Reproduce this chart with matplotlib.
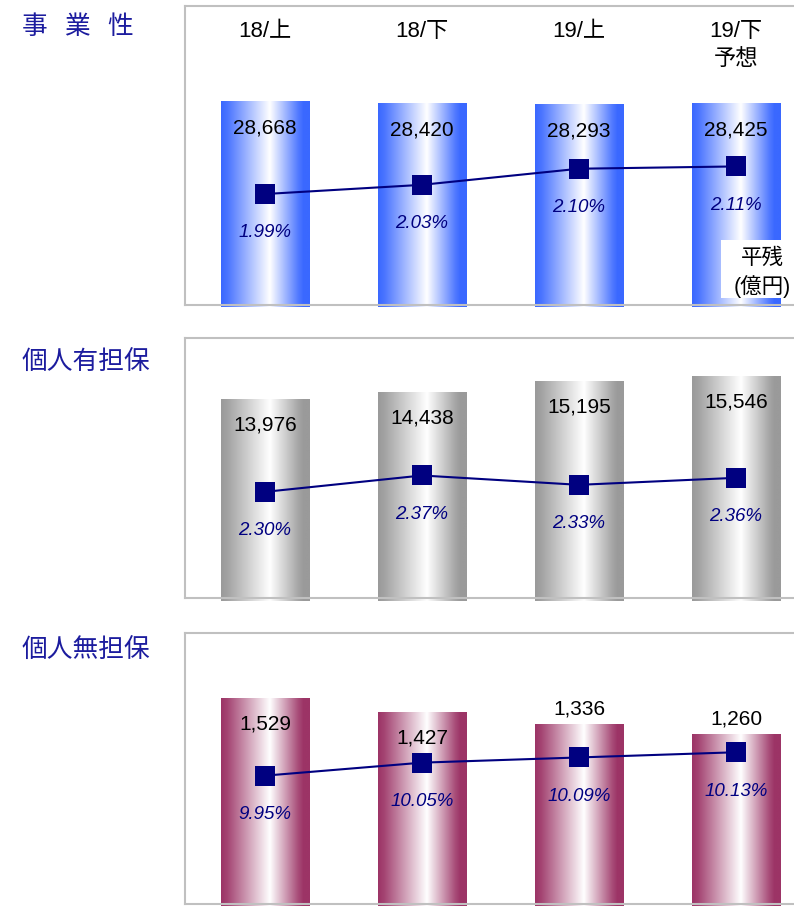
import numpy as np
import matplotlib
matplotlib.use('Agg')
import matplotlib.pyplot as plt
from matplotlib.colors import to_rgb
from matplotlib.patches import Rectangle

plt.rcParams['font.family'] = ['Liberation Sans', 'Noto Sans CJK JP', 'DejaVu Sans']

periods = ['18/上', '18/下', '19/上', '19/下\n予想']
titles = ['事   業   性', '個人有担保', '個人無担保']

biz_balance = [28668, 28420, 28293, 28425]
biz_rate = [1.99, 2.03, 2.10, 2.11]
sec_balance = [13976, 14438, 15195, 15546]
sec_rate = [2.30, 2.37, 2.33, 2.36]
unsec_balance = [1529, 1427, 1336, 1260]
unsec_rate = [9.95, 10.05, 10.09, 10.13]

W, H = 794, 906
fig = plt.figure(figsize=(W / 100, H / 100), dpi=100)

# pixel layout of each panel: top, bottom spine, bar base, units per px,
# rate anchor (value, px), px per 1%
panels = [
    dict(bal=biz_balance, rate=biz_rate, color='#3a68ff', top=6, bottom=305,
         base=307.5, upp=139.8, anchor=(2.0575, 178.5), ppr=230,
         inside=[True, True, True, True], title_y=27),
    dict(bal=sec_balance, rate=sec_rate, color='#9a9a9a', top=338, bottom=598,
         base=601, upp=69.2, anchor=(2.34, 482.5), ppr=234,
         inside=[True, True, True, True], title_y=363),
    dict(bal=unsec_balance, rate=unsec_rate, color='#9c3466', top=633, bottom=904,
         base=907, upp=7.32, anchor=(10.055, 762), ppr=130,
         inside=[True, True, False, False], title_y=651),
]

left_px, right_px = 185, 806
c0, step = 265, 157
bar_w = 89 / step

# horizontal cylinder shading
gx = np.linspace(0, 1, 200)
white = np.interp(gx, [0, 0.07, 0.55, 0.87, 0.93, 1.0], [0.0, 0.08, 1.0, 0.12, 0.0, 0.0])

x = np.arange(len(periods))
for k, p in enumerate(panels):
    ax = fig.add_axes([left_px / W, 1 - p['bottom'] / H,
                       (right_px - left_px) / W, (p['bottom'] - p['top']) / H])
    edge = np.array(to_rgb(p['color']))
    grad = edge[None, :] * (1 - white[:, None]) + white[:, None]
    grad = grad[None, :, :]

    for i, v in enumerate(p['bal']):
        im = ax.imshow(grad, extent=(i - bar_w / 2, i + bar_w / 2, 0, v),
                       aspect='auto', zorder=1, interpolation='bilinear')
        im.set_clip_on(False)
        off = -18.5 if p['inside'][i] else 11.5
        ax.annotate(f'{v:,}', xy=(i, v), xytext=(0, off), textcoords='offset points',
                    ha='center', va='center', fontsize=15, color='black', zorder=5)

    ax.set_xlim(-(c0 - left_px) / step, (right_px - c0) / step)
    ax.set_ylim((p['base'] - p['bottom']) * p['upp'], (p['base'] - p['top']) * p['upp'])
    ax.set_xticks([])
    ax.set_yticks([])
    for s in ax.spines.values():
        s.set_color('#c0c0c0')
        s.set_linewidth(1.5)

    ax2 = ax.twinx()
    v0, p0 = p['anchor']
    ax2.set_ylim(v0 - (p['bottom'] - p0) / p['ppr'], v0 + (p0 - p['top']) / p['ppr'])
    ax2.plot(x, p['rate'], color='#000080', lw=1.5, marker='s', markersize=14.5,
             markeredgewidth=0)
    for i, r in enumerate(p['rate']):
        ax2.annotate(f'{r:.2f}%', xy=(i, r), xytext=(0, -28), textcoords='offset points',
                     ha='center', va='center', fontsize=13.5, style='italic', color='#000080')
    ax2.set_yticks([])
    for s in ax2.spines.values():
        s.set_visible(False)

    fig.text(22 / W, 1 - p['title_y'] / H, titles[k], fontsize=18.5, color='#1c1c9e',
             ha='left', va='center', family=['Noto Sans CJK JP', 'DejaVu Sans'])

    if k == 0:
        for i, lab in enumerate(periods):
            ax.annotate(lab, xy=(i, 1), xycoords=('data', 'axes fraction'),
                        xytext=(0, -11), textcoords='offset points',
                        ha='center', va='top', fontsize=16, linespacing=1.4)

# unit note box
fig.patches.append(Rectangle((721 / W, 1 - 298 / H), 80 / W, 58 / H,
                             transform=fig.transFigure, facecolor='white',
                             edgecolor='none', zorder=10))
fig.text(762 / W, 1 - 273 / H, '平残\n(億円)', fontsize=15.5, ha='center', va='center',
         multialignment='center', linespacing=1.3, zorder=11)

fig.savefig('out.png', dpi=100)
